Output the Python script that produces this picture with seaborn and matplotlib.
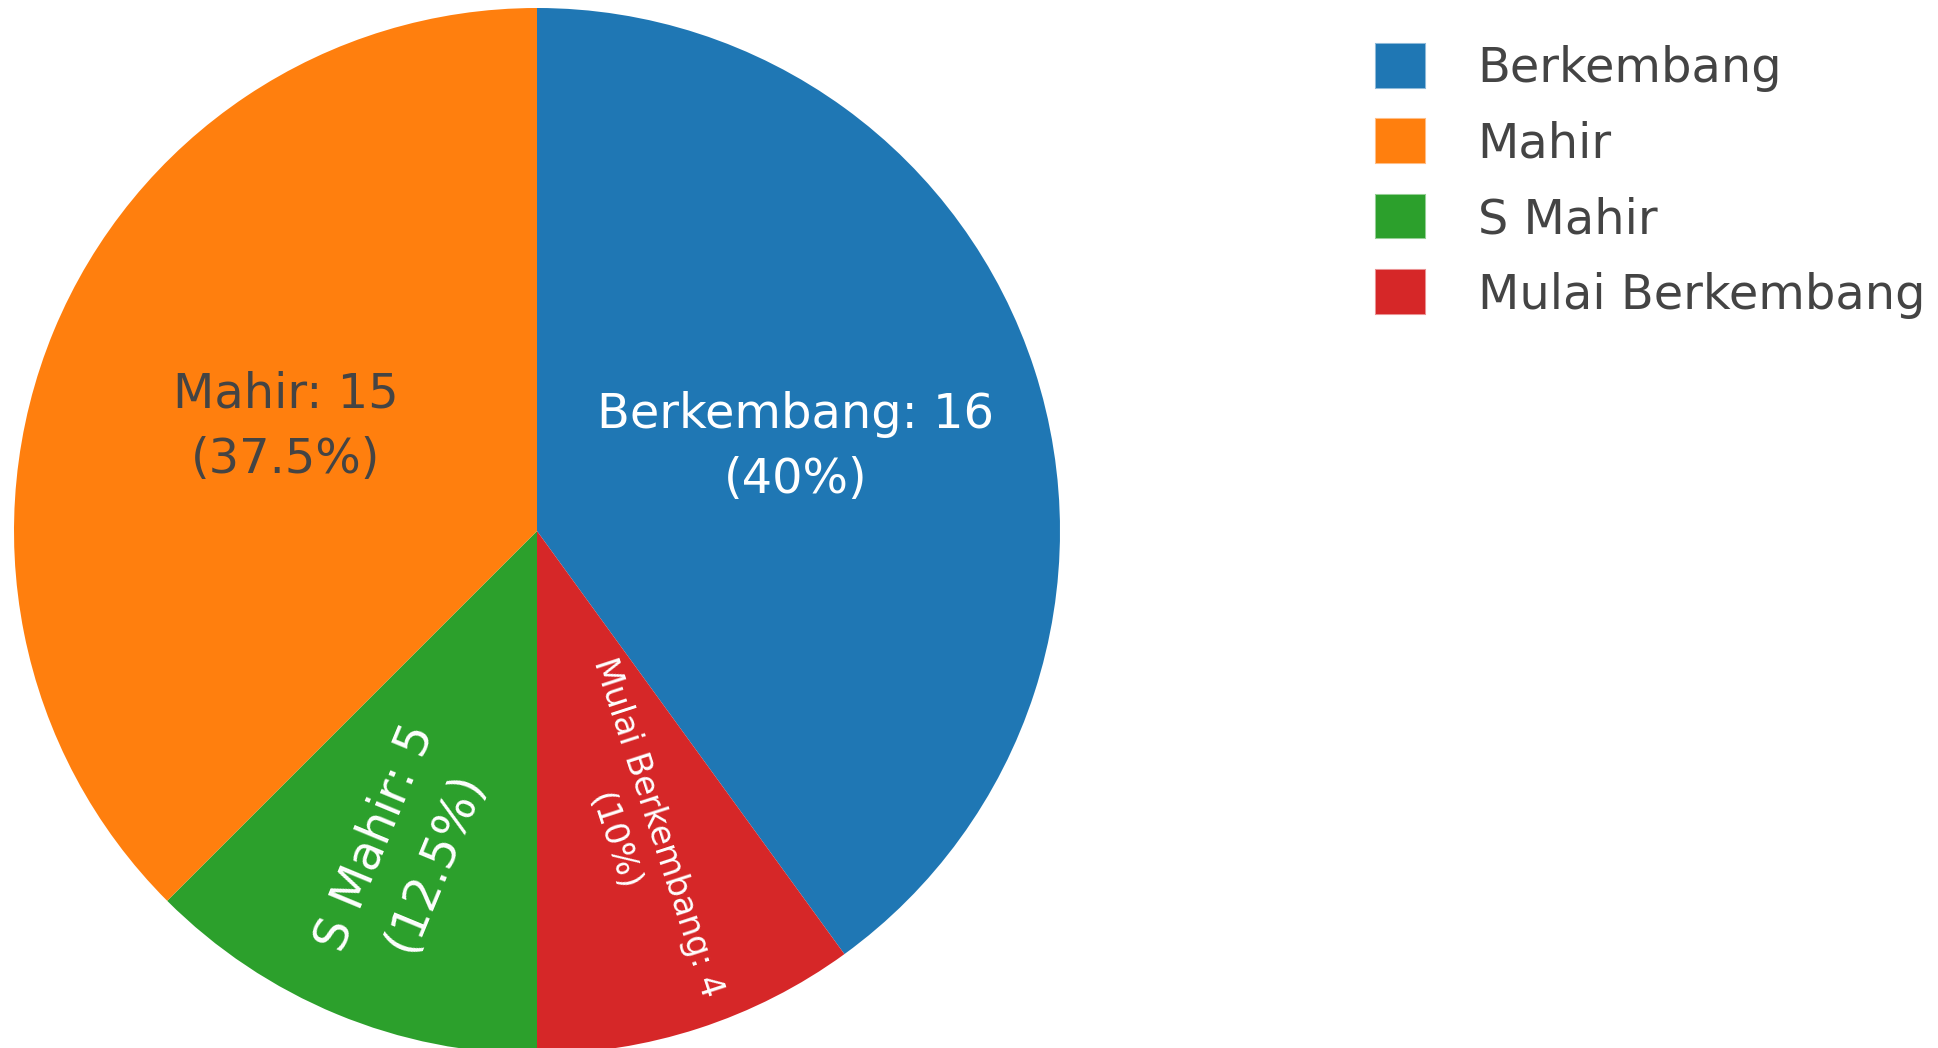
import numpy as np
import matplotlib
matplotlib.use('Agg')
import matplotlib.pyplot as plt
import seaborn as sns
from matplotlib.patches import Patch

# data
labels = ['Berkembang', 'Mulai Berkembang', 'S Mahir', 'Mahir']
values = [16, 4, 5, 15]
legend_order = ['Berkembang', 'Mahir', 'S Mahir', 'Mulai Berkembang']

# label styling per slice (same order as labels)
label_dist = [0.52, 0.61, 0.66, 0.52]
label_size = [34.5, 24, 34.5, 34.5]
label_color = ['white', 'white', 'white', '#444444']
label_mode = ['horizontal', 'radial', 'radial', 'horizontal']

sns.set_theme(style='white')
plt.rcParams['font.family'] = ['DejaVu Sans']

palette = sns.color_palette('tab10', 4)
color_map = dict(zip(legend_order, palette))
colors = [color_map[l] for l in labels]

W, H = 1938, 1048
cx, cy, R = 537, 531, 523  # pie centre / radius in pixels

fig = plt.figure(figsize=(W / 100, H / 100), dpi=100)
ax = fig.add_axes([0, 0, 1, 1])
wedges, _ = ax.pie(values, colors=colors, startangle=90, counterclock=False,
                   radius=1, wedgeprops=dict(linewidth=0))
ax.set_aspect('auto')
ax.set_xlim(-cx / R, (W - cx) / R)
ax.set_ylim(-(H - cy) / R, cy / R)
ax.axis('off')

total = sum(values)
for w, lab, v, d, fs, col, mode in zip(wedges, labels, values, label_dist,
                                       label_size, label_color, label_mode):
    mid = (w.theta1 + w.theta2) / 2
    x, y = d * np.cos(np.deg2rad(mid)), d * np.sin(np.deg2rad(mid))
    rot = 0
    if mode == 'radial':
        rot = ((mid + 180) % 360) - 180
        if rot < -90:
            rot += 180
        elif rot > 90:
            rot -= 180
    pct = 100 * v / total
    ax.text(x, y, f"{lab}: {v}\n({pct:g}%)", ha='center', va='center',
            rotation=rot, rotation_mode='anchor', fontsize=fs, color=col,
            linespacing=1.5)

handles = [Patch(facecolor=color_map[l], edgecolor=(*color_map[l], 0.5),
                 linewidth=1.5) for l in legend_order]
fig.legend(handles, legend_order, loc='upper left',
           bbox_to_anchor=(1376 / W, 1 - 44 / H), frameon=False,
           fontsize=34.5, handlelength=1.02, handleheight=1.02,
           handletextpad=1.1, labelspacing=0.57, borderpad=0,
           borderaxespad=0, labelcolor='#444444')

fig.savefig('out.png', dpi=100)
